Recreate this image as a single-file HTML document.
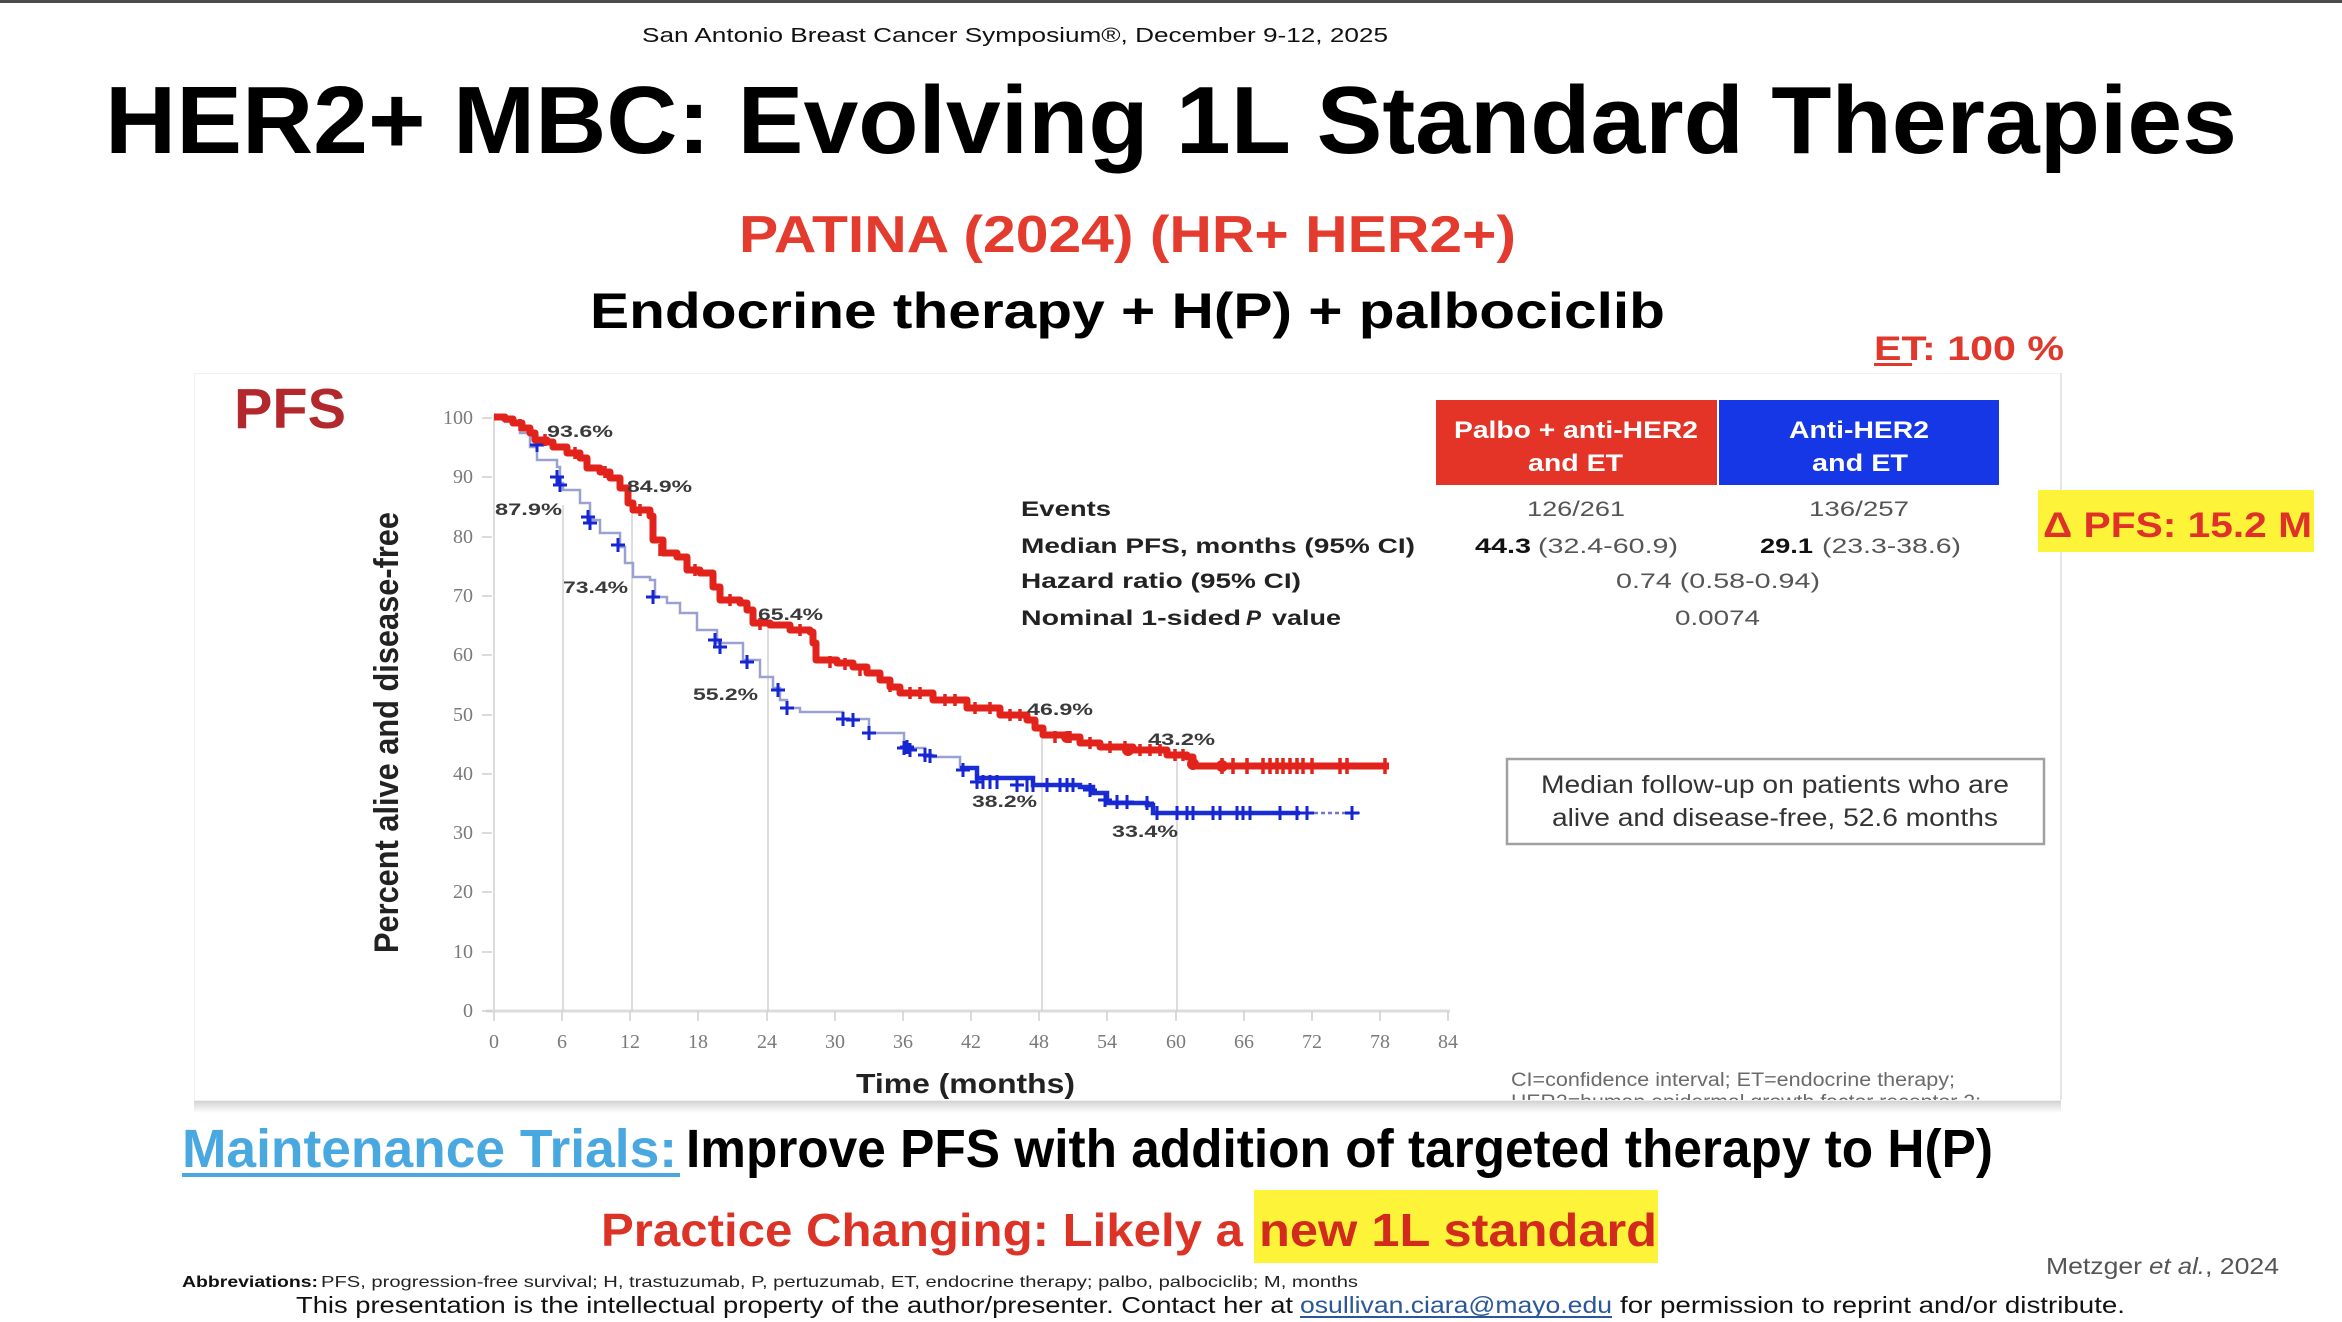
<!DOCTYPE html>
<html><head><meta charset="utf-8"><style>
html,body{margin:0;padding:0;background:#fff;}
svg{display:block;}
text{font-family:"Liberation Sans",sans-serif;}
.s text{font-family:"Liberation Serif",serif;fill:#7a7a7a;font-size:20px;}
.lb{font-weight:bold;fill:#3a3a3a;font-size:17px;}
</style></head><body>
<svg width="2342" height="1322" viewBox="0 0 2342 1322" xmlns="http://www.w3.org/2000/svg">
<defs>
<linearGradient id="sh" x1="0" y1="0" x2="0" y2="1"><stop offset="0" stop-color="#cfcfcf"/><stop offset="1" stop-color="#ffffff"/></linearGradient>
<clipPath id="pc"><rect x="194" y="373" width="1866" height="727"/></clipPath>
</defs>
<rect x="0" y="0" width="2342" height="1322" fill="#fff"/>
<rect x="0" y="0" width="2342" height="3" fill="#4a4a4a"/>

<!-- header texts -->
<text x="642" y="42" font-size="20" textLength="746" lengthAdjust="spacingAndGlyphs" fill="#111">San Antonio Breast Cancer Symposium®, December 9-12, 2025</text>
<text x="105" y="153" font-size="96" font-weight="bold" textLength="2132" lengthAdjust="spacingAndGlyphs" fill="#000">HER2+ MBC: Evolving 1L Standard Therapies</text>
<text x="739" y="252" font-size="52" font-weight="bold" textLength="777" lengthAdjust="spacingAndGlyphs" fill="#e33b2e">PATINA (2024) (HR+ HER2+)</text>
<text x="590" y="328" font-size="50" font-weight="bold" textLength="1075" lengthAdjust="spacingAndGlyphs" fill="#000">Endocrine therapy + H(P) + palbociclib</text>

<!-- chart panel -->
<rect x="194" y="1100" width="1867" height="13" fill="url(#sh)"/>
<rect x="194.5" y="373.5" width="1866" height="727" fill="#fff" stroke="#f0f0f0" stroke-width="1"/>
<line x1="2061" y1="373" x2="2061" y2="1100" stroke="#e6e6e6" stroke-width="2"/>

<text x="1874" y="360" font-size="34" font-weight="bold" textLength="190" lengthAdjust="spacingAndGlyphs" fill="#e0382c">ET: 100 %</text>
<rect x="1874" y="363" width="38" height="3" fill="#e0382c"/>

<text x="234" y="428" font-size="57" font-weight="bold" textLength="112" lengthAdjust="spacingAndGlyphs" fill="#b3282d">PFS</text>

<!-- axes -->
<line x1="494" y1="415" x2="494" y2="1012" stroke="#d0d0d0" stroke-width="1.5"/>
<line x1="486" y1="1011" x2="1450" y2="1011" stroke="#dcdcdc" stroke-width="3"/>
<g stroke="#cfcfcf" stroke-width="1.5">
<line x1="482" y1="418" x2="492" y2="418"/><line x1="482" y1="477" x2="492" y2="477"/><line x1="482" y1="537" x2="492" y2="537"/><line x1="482" y1="596" x2="492" y2="596"/><line x1="482" y1="655" x2="492" y2="655"/><line x1="482" y1="715" x2="492" y2="715"/><line x1="482" y1="774" x2="492" y2="774"/><line x1="482" y1="833" x2="492" y2="833"/><line x1="482" y1="892" x2="492" y2="892"/><line x1="482" y1="952" x2="492" y2="952"/><line x1="482" y1="1011" x2="492" y2="1011"/>
<line x1="494" y1="1011" x2="494" y2="1021"/><line x1="562" y1="1011" x2="562" y2="1021"/><line x1="630" y1="1011" x2="630" y2="1021"/><line x1="698" y1="1011" x2="698" y2="1021"/><line x1="767" y1="1011" x2="767" y2="1021"/><line x1="835" y1="1011" x2="835" y2="1021"/><line x1="903" y1="1011" x2="903" y2="1021"/><line x1="971" y1="1011" x2="971" y2="1021"/><line x1="1039" y1="1011" x2="1039" y2="1021"/><line x1="1107" y1="1011" x2="1107" y2="1021"/><line x1="1176" y1="1011" x2="1176" y2="1021"/><line x1="1244" y1="1011" x2="1244" y2="1021"/><line x1="1312" y1="1011" x2="1312" y2="1021"/><line x1="1380" y1="1011" x2="1380" y2="1021"/><line x1="1448" y1="1011" x2="1448" y2="1021"/>
</g>
<!-- reference lines -->
<g stroke="#d2d2d2" stroke-width="1.5">
<line x1="563" y1="505" x2="563" y2="1011"/>
<line x1="632" y1="508" x2="632" y2="1011"/>
<line x1="768" y1="625" x2="768" y2="1011"/>
<line x1="1042" y1="738" x2="1042" y2="1011"/>
<line x1="1177" y1="758" x2="1177" y2="1011"/>
</g>
<g class="s" text-anchor="end">
<text x="473" y="424">100</text><text x="473" y="483">90</text><text x="473" y="543">80</text><text x="473" y="602">70</text><text x="473" y="661">60</text><text x="473" y="721">50</text><text x="473" y="780">40</text><text x="473" y="839">30</text><text x="473" y="898">20</text><text x="473" y="958">10</text><text x="473" y="1017">0</text>
</g>
<g class="s" text-anchor="middle">
<text x="494" y="1048">0</text><text x="562" y="1048">6</text><text x="630" y="1048">12</text><text x="698" y="1048">18</text><text x="767" y="1048">24</text><text x="835" y="1048">30</text><text x="903" y="1048">36</text><text x="971" y="1048">42</text><text x="1039" y="1048">48</text><text x="1107" y="1048">54</text><text x="1176" y="1048">60</text><text x="1244" y="1048">66</text><text x="1312" y="1048">72</text><text x="1380" y="1048">78</text><text x="1448" y="1048">84</text>
</g>
<text transform="translate(398,953) rotate(-90)" font-size="34" font-weight="bold" textLength="441" lengthAdjust="spacingAndGlyphs" fill="#222">Percent alive and disease-free</text>
<text x="856" y="1093" font-size="28" font-weight="bold" textLength="219" lengthAdjust="spacingAndGlyphs" fill="#222">Time (months)</text>

<!-- blue curve (thin early) -->
<path d="M494,417 H505 V422 H520 V433 H530 V447 H537 V460 H557 V467 H560 V483 H563 V490 H580 V503 H590 V520 H600 V533 H620 V547 H625 V563 H633 V577 H650 V580 H655 V597 H667 V603 H680 V613 H697 V630 H717 V643 H743 V660 H760 V677 H773 V688 H780 V700 H787 V708 H800 V712 H843 V719 H869 V733 H904 V748 H925 V755 H933 V757 H960 V768" fill="none" stroke="#9aa1d2" stroke-width="2.5"/>
<path d="M960,768 H977 V778 H1033 V785 H1080 V787 H1093 V793 H1107 V803 H1147 V805 H1153 V813 H1300" fill="none" stroke="#1a2ed6" stroke-width="4.5"/>
<path d="M1300,813 H1360" fill="none" stroke="#6f78cc" stroke-width="2.5" stroke-dasharray="4 3"/>
<!-- blue markers -->
<g stroke="#1626d2" stroke-width="3">
<path d="M530,445 h14 M537,438 v14 M550,477 h14 M557,470 v14 M553,485 h14 M560,478 v14 M581,517 h14 M588,510 v14 M583,523 h14 M590,516 v14 M611,545 h14 M618,538 v14 M646,597 h14 M653,590 v14 M708,640 h14 M715,633 v14 M713,647 h14 M720,640 v14 M740,662 h14 M747,655 v14 M771,690 h14 M778,683 v14 M780,708 h14 M787,701 v14 M836,719 h14 M843,712 v14 M846,720 h14 M853,713 v14 M862,733 h14 M869,726 v14 M897,748 h14 M904,741 v14 M903,750 h14 M910,743 v14 M918,755 h14 M925,748 v14 M900,747 h14 M907,740 v14 M923,756 h14 M930,749 v14 M956,770 h14 M963,763 v14"/>
<path d="M970,782 h14 M977,775 v14 M983,775 v14 M990,775 v14 M997,775 v14 M1017,778 v14 M1010,785 h14 M1027,778 v14 M1033,778 v14 M1047,778 v14 M1040,785 h14 M1060,778 v14 M1067,778 v14 M1073,778 v14 M1083,790 h14 M1090,783 v14 M1098,800 h14 M1105,793 v14 M1117,795 v14 M1127,795 v14 M1110,802 h24 M1147,796 v14 M1140,803 h14 M1157,806 v14 M1177,806 v14 M1187,806 v14 M1193,806 v14 M1213,806 v14 M1220,806 v14 M1237,806 v14 M1243,806 v14 M1250,806 v14 M1280,806 v14 M1273,813 h14 M1297,806 v14 M1307,806 v14 M1290,813 h24 M1352,806 v14 M1345,813 h14"/>
</g>

<!-- red curve -->
<path d="M494,417 H505 V419 H513 V423 H522 V428 H530 V433 H535 V440 H547 V442 H553 V447 H567 V453 H580 V458 H587 V468 H600 V472 H610 V478 H620 V488 H628 V503 H633 V510 H650 V516 H653 V540 H663 V553 H677 V557 H687 V570 H700 V573 H713 V587 H720 V600 H740 V603 H747 V610 H753 V623 H770 V625 H790 V630 H810 V632 H813 V643 H816 V660 H837 V663 H853 V667 H867 V673 H880 V680 H890 V687 H900 V693 H933 V700 H967 V708 H1000 V715 H1027 V720 H1035 V728 H1043 V735 H1067 V737 H1080 V743 H1100 V747 H1133 V750 H1167 V755 H1187 V757 H1193 V766 H1389" fill="none" stroke="#e2231c" stroke-width="7" stroke-linejoin="round"/>
<g stroke="#e2231c" stroke-width="3.5">
<path d="M520,419 v12 M545,434 v12 M575,447 v12 M605,466 v12 M640,504 v12 M660,544 v12 M695,564 v12 M730,594 v12 M760,618 v12 M800,624 v12 M830,656 v12 M845,658 v12 M860,664 v12 M890,680 v12 M910,687 v12 M920,687 v12 M945,694 v12 M955,694 v12 M975,702 v12 M990,702 v12 M1010,709 v12 M1020,709 v12 M1055,731 v12 M1070,731 v12 M1090,737 v12 M1110,741 v12 M1125,741 v12 M1140,744 v12 M1150,744 v12 M1160,744 v12 M1175,749 v12 M1183,749 v12"/>
<path d="M1222,758 v16 M1233,758 v16 M1247,758 v16 M1263,758 v16 M1270,758 v16 M1277,758 v16 M1283,758 v16 M1290,758 v16 M1297,758 v16 M1303,758 v16 M1312,758 v16 M1340,758 v16 M1347,758 v16 M1385,758 v16"/>
</g>
<circle cx="1222" cy="766" r="6" fill="#e2231c"/><circle cx="1067" cy="737" r="6" fill="#e2231c"/><circle cx="1128" cy="750" r="6" fill="#e2231c"/><circle cx="1193" cy="764" r="6" fill="#e2231c"/>

<!-- curve labels -->
<g class="lb">
<text x="547" y="437" textLength="66" lengthAdjust="spacingAndGlyphs">93.6%</text>
<text x="627" y="492" textLength="65" lengthAdjust="spacingAndGlyphs">84.9%</text>
<text x="495" y="515" textLength="67" lengthAdjust="spacingAndGlyphs">87.9%</text>
<text x="563" y="593" textLength="65" lengthAdjust="spacingAndGlyphs">73.4%</text>
<text x="758" y="620" textLength="65" lengthAdjust="spacingAndGlyphs">65.4%</text>
<text x="693" y="700" textLength="65" lengthAdjust="spacingAndGlyphs">55.2%</text>
<text x="1027" y="715" textLength="66" lengthAdjust="spacingAndGlyphs">46.9%</text>
<text x="1148" y="745" textLength="67" lengthAdjust="spacingAndGlyphs">43.2%</text>
<text x="972" y="807" textLength="65" lengthAdjust="spacingAndGlyphs">38.2%</text>
<text x="1112" y="837" textLength="66" lengthAdjust="spacingAndGlyphs">33.4%</text>
</g>

<!-- table -->
<rect x="1436" y="400" width="281" height="85" fill="#e33427"/>
<rect x="1719" y="400" width="280" height="85" fill="#1637e6"/>
<g font-weight="bold" fill="#fff" font-size="24">
<text x="1454" y="438" textLength="244" lengthAdjust="spacingAndGlyphs">Palbo + anti-HER2</text>
<text x="1528" y="471" textLength="95" lengthAdjust="spacingAndGlyphs">and ET</text>
<text x="1789" y="438" textLength="140" lengthAdjust="spacingAndGlyphs">Anti-HER2</text>
<text x="1812" y="471" textLength="96" lengthAdjust="spacingAndGlyphs">and ET</text>
</g>
<g font-weight="bold" fill="#222" font-size="21">
<text x="1021" y="516" textLength="90" lengthAdjust="spacingAndGlyphs">Events</text>
<text x="1021" y="553" textLength="394" lengthAdjust="spacingAndGlyphs">Median PFS, months (95% CI)</text>
<text x="1021" y="588" textLength="280" lengthAdjust="spacingAndGlyphs">Hazard ratio (95% CI)</text>
<text x="1021" y="625" textLength="220" lengthAdjust="spacingAndGlyphs">Nominal 1-sided</text>
<text x="1246" y="625" textLength="15" lengthAdjust="spacingAndGlyphs" font-style="italic">P</text>
<text x="1272" y="625" textLength="69" lengthAdjust="spacingAndGlyphs">value</text>
<text x="1475" y="553" textLength="56" lengthAdjust="spacingAndGlyphs" fill="#111">44.3</text>
<text x="1760" y="553" textLength="53" lengthAdjust="spacingAndGlyphs" fill="#111">29.1</text>
</g>
<g fill="#555" font-size="21">
<text x="1527" y="516" textLength="98" lengthAdjust="spacingAndGlyphs">126/261</text>
<text x="1809" y="516" textLength="100" lengthAdjust="spacingAndGlyphs">136/257</text>
<text x="1538" y="553" textLength="140" lengthAdjust="spacingAndGlyphs">(32.4-60.9)</text>
<text x="1822" y="553" textLength="139" lengthAdjust="spacingAndGlyphs">(23.3-38.6)</text>
<text x="1616" y="588" textLength="204" lengthAdjust="spacingAndGlyphs">0.74 (0.58-0.94)</text>
<text x="1675" y="625" textLength="85" lengthAdjust="spacingAndGlyphs">0.0074</text>
</g>

<rect x="2038" y="490" width="276" height="62" fill="#fdf43a"/>
<text x="2043" y="537" font-size="35" font-weight="bold" textLength="269" lengthAdjust="spacingAndGlyphs" fill="#e0302a">Δ PFS: 15.2 M</text>

<rect x="1507" y="759" width="537" height="85" fill="#fff" stroke="#a0a0a0" stroke-width="2.5"/>
<g fill="#333" font-size="25">
<text x="1541" y="793" textLength="468" lengthAdjust="spacingAndGlyphs">Median follow-up on patients who are</text>
<text x="1552" y="826" textLength="446" lengthAdjust="spacingAndGlyphs">alive and disease-free, 52.6 months</text>
</g>
<g clip-path="url(#pc)" fill="#6a6a6a" font-size="19">
<text x="1511" y="1086" textLength="444" lengthAdjust="spacingAndGlyphs">CI=confidence interval; ET=endocrine therapy;</text>
<text x="1511" y="1108" textLength="470" lengthAdjust="spacingAndGlyphs">HER2=human epidermal growth factor receptor 2;</text>
</g>

<!-- bottom texts -->
<text x="182" y="1167" font-size="54" font-weight="bold" textLength="495" lengthAdjust="spacingAndGlyphs" fill="#4aa8e0">Maintenance Trials:</text>
<rect x="182" y="1173" width="498" height="4" fill="#4aa8e0"/>
<text x="686" y="1167" font-size="54" font-weight="bold" textLength="1307" lengthAdjust="spacingAndGlyphs" fill="#000">Improve PFS with addition of targeted therapy to H(P)</text>

<rect x="1254" y="1190" width="404" height="73" fill="#fdf43a"/>
<text x="601" y="1246" font-size="46" font-weight="bold" textLength="642" lengthAdjust="spacingAndGlyphs" fill="#dd3326">Practice Changing: Likely a</text>
<text x="1259" y="1246" font-size="46" font-weight="bold" textLength="398" lengthAdjust="spacingAndGlyphs" fill="#d22a1c">new 1L standard</text>

<g fill="#555" font-size="23">
<text x="2046" y="1274" textLength="96" lengthAdjust="spacingAndGlyphs">Metzger</text>
<text x="2149" y="1274" textLength="56" lengthAdjust="spacingAndGlyphs" font-style="italic">et al.</text>
<text x="2205" y="1274" textLength="74" lengthAdjust="spacingAndGlyphs">, 2024</text>
</g>

<text x="182" y="1287" font-size="16" font-weight="bold" textLength="136" lengthAdjust="spacingAndGlyphs" fill="#111">Abbreviations:</text>
<text x="321" y="1287" font-size="16" textLength="1037" lengthAdjust="spacingAndGlyphs" fill="#222">PFS, progression-free survival; H, trastuzumab, P, pertuzumab, ET, endocrine therapy; palbo, palbociclib; M, months</text>

<g font-size="23" fill="#111">
<text x="296" y="1313" textLength="997" lengthAdjust="spacingAndGlyphs">This presentation is the intellectual property of the author/presenter. Contact her at</text>
<text x="1300" y="1313" textLength="312" lengthAdjust="spacingAndGlyphs" fill="#2b579a">osullivan.ciara@mayo.edu</text>
<text x="1620" y="1313" textLength="505" lengthAdjust="spacingAndGlyphs">for permission to reprint and/or distribute.</text>
</g>
<rect x="1300" y="1316" width="312" height="2" fill="#2b579a"/>
</svg>
</body></html>
